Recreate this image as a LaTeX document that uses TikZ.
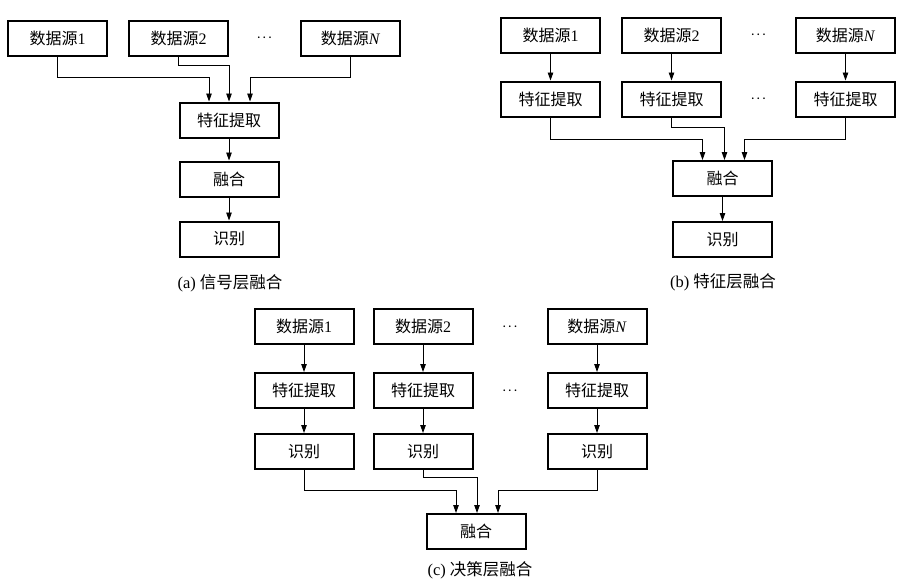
\documentclass[tikz,border=0pt]{standalone}
\usepackage{fontspec}
\setmainfont{Liberation Serif}
\newfontfamily\zh{Noto Sans CJK SC}
\usetikzlibrary{positioning, arrows.meta, calc}

\begin{document}
\begin{tikzpicture}[
    x=1pt, y=-1pt,
    >={Triangle[length=8pt,width=5.5pt]},
    box/.style={
        draw,
        line width=2pt,
        minimum width=99pt,
        minimum height=35pt,
        inner sep=0pt,
        font=\fontsize{16}{19}\selectfont
    },
    caption/.style={font=\fontsize{16.5}{19}\selectfont},
    dots/.style={font=\fontsize{11}{13}\selectfont\boldmath},
    link/.style={->, line width=0.9pt}
]
\useasboundingbox (0,0) rectangle (897,587);

% (a) signal level
\node[box] (a1) at (57.5,38) {{\zh 数据源}1};
\node[box, right=20pt of a1] (a2) {{\zh 数据源}2};
\node[box, right=71pt of a2] (aN) {{\zh 数据源}\textit{N}};
\node[dots] (adots) at ($(a2.east)!0.5!(aN.west)$) {$\cdots$};
\node[box] (af) at (229,120) {\zh 特征提取};
\node[box, below=22pt of af] (am) {\zh 融合};
\node[box, below=23pt of am] (ar) {\zh 识别};
\node[caption] (acap) at (230,283) {(a) {\zh 信号层融合}};

\draw[link] (a1.south) -- ++(0,21) -| ([xshift=-20pt]af.north);
\draw[link] (a2.south) -- ++(0,9) -| (af.north);
\draw[link] (aN.south) -- ++(0,21) -| ([xshift=21pt]af.north);
\path[link]
(af) edge (am)
(am) edge (ar);

% (b) feature level
\node[box] (b1) at (550.5,35) {{\zh 数据源}1};
\node[box, right=20pt of b1] (b2) {{\zh 数据源}2};
\node[box, right=73pt of b2] (bN) {{\zh 数据源}\textit{N}};
\node[dots] (bdots) at ($(b2.east)!0.5!(bN.west)$) {$\cdots$};
\node[box, below=27pt of b1] (bf1) {\zh 特征提取};
\node[box, below=27pt of b2] (bf2) {\zh 特征提取};
\node[box, below=27pt of bN] (bfN) {\zh 特征提取};
\node[dots] (bfdots) at ($(bf2.east)!0.5!(bfN.west)$) {$\cdots$};
\node[box] (bm) at (722.5,178.5) {\zh 融合};
\node[box, below=24pt of bm] (br) {\zh 识别};
\node[caption] (bcap) at (723,282) {(b) {\zh 特征层融合}};

\path[link]
(b1) edge (bf1)
(b2) edge (bf2)
(bN) edge (bfN)
(bm) edge (br);
\draw[link] (bf1.south) -- ++(0,21.5) -| ([xshift=-20pt]bm.north);
\draw[link] (bf2.south) -- ++(0,9.5) -| ([xshift=2pt]bm.north);
\draw[link] (bfN.south) -- ++(0,21.5) -| ([xshift=22pt]bm.north);

% (c) decision level
\node[box] (c1) at (304,326.5) {{\zh 数据源}1};
\node[box, right=18pt of c1] (c2) {{\zh 数据源}2};
\node[box, right=73pt of c2] (cN) {{\zh 数据源}\textit{N}};
\node[dots] (cdots) at ($(c2.east)!0.5!(cN.west)$) {$\cdots$};
\node[box, below=27pt of c1] (cf1) {\zh 特征提取};
\node[box, below=27pt of c2] (cf2) {\zh 特征提取};
\node[box, below=27pt of cN] (cfN) {\zh 特征提取};
\node[dots] (cfdots) at ($(cf2.east)!0.5!(cfN.west)$) {$\cdots$};
\node[box, below=24pt of cf1] (cr1) {\zh 识别};
\node[box, below=24pt of cf2] (cr2) {\zh 识别};
\node[box, below=24pt of cfN] (crN) {\zh 识别};
\node[box] (cm) at (476,531.5) {\zh 融合};
\node[caption] (ccap) at (480,570) {(c) {\zh 决策层融合}};

\path[link]
(c1) edge (cf1)
(c2) edge (cf2)
(cN) edge (cfN)
(cf1) edge (cr1)
(cf2) edge (cr2)
(cfN) edge (crN);
\draw[link] (cr1.south) -- ++(0,20) -| ([xshift=-20pt]cm.north);
\draw[link] (cr2.south) -- ++(0,7) -| ([xshift=1pt]cm.north);
\draw[link] (crN.south) -- ++(0,20) -| ([xshift=22pt]cm.north);
\end{tikzpicture}
\end{document}
